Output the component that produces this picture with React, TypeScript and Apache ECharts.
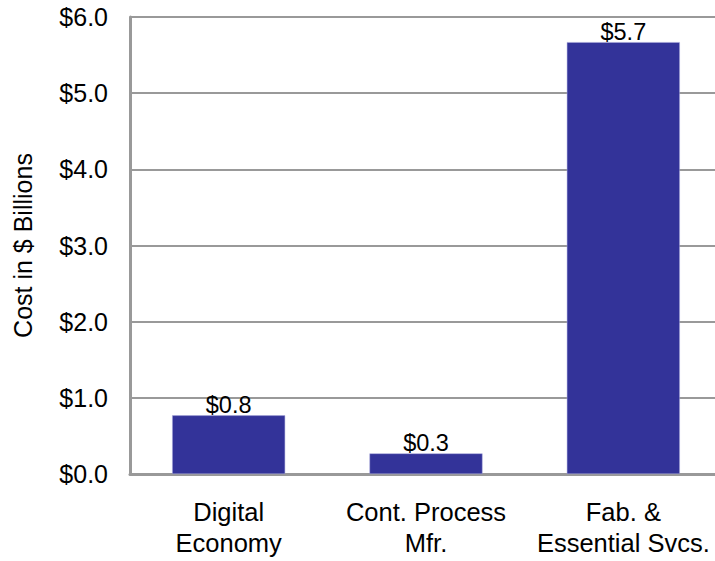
import React, { useEffect, useRef } from "react";
import * as echarts from "echarts";

const categories = ["Digital\nEconomy", "Cont. Process\nMfr.", "Fab. &\nEssential Svcs."];
const costValues = [0.77, 0.27, 5.67];
const yTicks = [0, 1, 2, 3, 4, 5, 6];
const yTitle = "Cost in $ Billions";

export default function App() {
  const ref = useRef<HTMLDivElement>(null);
  useEffect(() => {
    if (!ref.current) return;
    const chart = echarts.init(ref.current, null, { renderer: "svg" });
    const font = "Arial, 'Liberation Sans', Helvetica, sans-serif";
    chart.setOption({
      animation: false,
      grid: { left: 130, right: -7, top: 17, bottom: 87, containLabel: false, outerBoundsMode: "none" },
      xAxis: {
        type: "category",
        data: categories,
        axisLine: { show: true, lineStyle: { color: "#999999", width: 3 } },
        axisTick: { show: false },
        axisLabel: {
          color: "#000",
          fontSize: 25.5,
          fontFamily: font,
          lineHeight: 31,
          margin: 22,
          interval: 0,
        },
      },
      yAxis: {
        type: "value",
        min: yTicks[0],
        max: yTicks[yTicks.length - 1],
        interval: 1,
        name: yTitle,
        nameLocation: "middle",
        nameGap: 95,
        nameTextStyle: { color: "#000", fontSize: 25, fontFamily: font },
        axisLine: { show: true, lineStyle: { color: "#999999", width: 3 } },
        axisTick: { show: false },
        splitLine: { show: true, lineStyle: { color: "#999999", width: 2 } },
        axisLabel: {
          color: "#000",
          fontSize: 25,
          fontFamily: font,
          margin: 22,
          formatter: (v: number) => "$" + v.toFixed(1),
        },
      },
      series: [
        {
          type: "bar",
          data: costValues,
          barWidth: 113,
          itemStyle: { color: "#333399", borderColor: "#aaaadd", borderWidth: 0.5 },
          label: {
            show: true,
            position: "top",
            distance: -2,
            color: "#000",
            fontSize: 23.5,
            fontFamily: font,
            formatter: (p: any) => "$" + Number(p.value).toFixed(1),
          },
        },
      ],
    });
    return () => chart.dispose();
  }, []);
  return <div ref={ref} style={{ width: 715, height: 561, position: "absolute", left: 0, top: 0, background: "#fff" }} />;
}
